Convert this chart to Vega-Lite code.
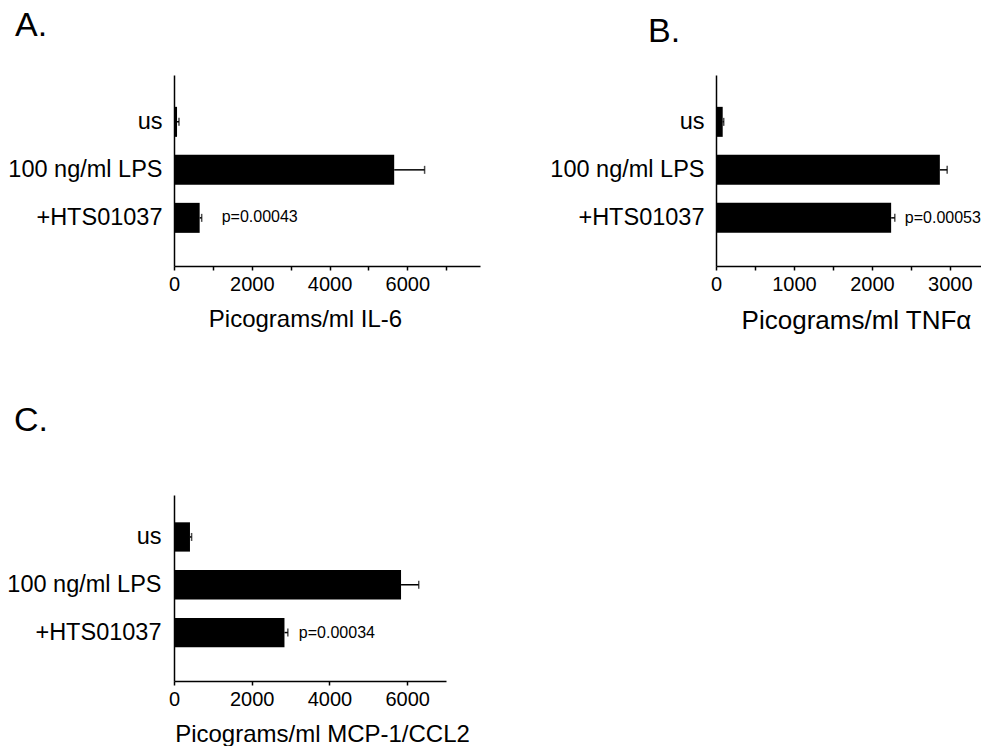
{
  "$schema": "https://vega.github.io/schema/vega-lite/v6.json",
  "autosize": {"type": "pad"},
  "padding": {"left": 6, "top": 9, "right": 0, "bottom": 0},
  "background": "white",
  "columns": 2,
  "spacing": {"row": 229, "column": 236},
  "bounds": "flush",
  "data": {
    "values": [
      {"panel": "A", "condition": "us", "value": 78, "upper": 128},
      {"panel": "A", "condition": "100 ng/ml LPS", "value": 5663, "upper": 6445},
      {"panel": "A", "condition": "+HTS01037", "value": 660, "upper": 712, "p": "p=0.00043"},
      {"panel": "B", "condition": "us", "value": 86, "upper": 99},
      {"panel": "B", "condition": "100 ng/ml LPS", "value": 2872, "upper": 2966},
      {"panel": "B", "condition": "+HTS01037", "value": 2247, "upper": 2294, "p": "p=0.00053"},
      {"panel": "C", "condition": "us", "value": 411, "upper": 453},
      {"panel": "C", "condition": "100 ng/ml LPS", "value": 5843, "upper": 6298},
      {"panel": "C", "condition": "+HTS01037", "value": 2843, "upper": 2930, "p": "p=0.00034"}
    ]
  },
  "concat": [
    {
      "width": 306, "height": 191,
      "title": {"text": "A.", "anchor": "start", "frame": "group", "dx": -159, "offset": 5, "baseline": "alphabetic", "fontSize": 34, "fontWeight": "normal", "font": "Liberation Sans", "color": "black"},
      "transform": [{"filter": "datum.panel == 'A'"}],
      "encoding": {
        "y": {"field": "condition", "type": "nominal", "sort": null,
          "scale": {"domain": ["us", "100 ng/ml LPS", "+HTS01037"], "paddingInner": 0.375, "paddingOuter": 0.677, "align": 0.49},
          "axis": {"title": null, "ticks": false, "labelFontSize": 23.5, "labelPadding": 12}}
      },
      "layer": [
        {"mark": {"type": "bar", "color": "black"},
         "encoding": {"x": {"field": "value", "type": "quantitative",
           "scale": {"domain": [0, 7870], "nice": false},
           "axis": {"title": "Picograms/ml IL-6", "values": [0, 1000, 2000, 3000, 4000, 5000, 6000, 7000], "format": "d",
             "labelExpr": "datum.value % 2000 == 0 ? datum.label : ''", "labelFontSize": 20, "labelPadding": 4, "tickSize": 4,
             "titleFontSize": 24, "titleX": 131, "titleY": 60, "titleBaseline": "alphabetic"}}}},
        {"mark": {"type": "rule", "color": "black", "strokeWidth": 1.5},
         "encoding": {"x": {"field": "value", "type": "quantitative"}, "x2": {"field": "upper"}}},
        {"mark": {"type": "tick", "color": "black", "thickness": 1.5, "size": 8},
         "encoding": {"x": {"field": "upper", "type": "quantitative"}}},
        {"transform": [{"filter": "datum.p"}],
         "mark": {"type": "text", "align": "left", "baseline": "middle", "dx": 20, "dy": -1, "fontSize": 16, "font": "Liberation Sans", "color": "black"},
         "encoding": {"x": {"field": "upper", "type": "quantitative"}, "text": {"field": "p"}}}
      ]
    },
    {
      "width": 265, "height": 191,
      "title": {"text": "B.", "anchor": "start", "frame": "group", "dx": -68, "offset": -1, "baseline": "alphabetic", "fontSize": 34, "fontWeight": "normal", "font": "Liberation Sans", "color": "black"},
      "transform": [{"filter": "datum.panel == 'B'"}],
      "encoding": {
        "y": {"field": "condition", "type": "nominal", "sort": null,
          "scale": {"domain": ["us", "100 ng/ml LPS", "+HTS01037"], "paddingInner": 0.375, "paddingOuter": 0.677, "align": 0.49},
          "axis": {"title": null, "ticks": false, "labelFontSize": 23.5, "labelPadding": 12}}
      },
      "layer": [
        {"mark": {"type": "bar", "color": "black"},
         "encoding": {"x": {"field": "value", "type": "quantitative",
           "scale": {"domain": [0, 3400], "nice": false},
           "axis": {"title": "Picograms/ml TNFα", "values": [0, 500, 1000, 1500, 2000, 2500, 3000], "format": "d",
             "labelExpr": "datum.value % 1000 == 0 ? datum.label : ''", "labelFontSize": 20, "labelPadding": 4, "tickSize": 4,
             "titleFontSize": 26, "titleX": 140, "titleY": 62, "titleBaseline": "alphabetic"}}}},
        {"mark": {"type": "rule", "color": "black", "strokeWidth": 1.5},
         "encoding": {"x": {"field": "value", "type": "quantitative"}, "x2": {"field": "upper"}}},
        {"mark": {"type": "tick", "color": "black", "thickness": 1.5, "size": 8},
         "encoding": {"x": {"field": "upper", "type": "quantitative"}}},
        {"transform": [{"filter": "datum.p"}],
         "mark": {"type": "text", "align": "left", "baseline": "middle", "dx": 10, "dy": 0, "fontSize": 16, "font": "Liberation Sans", "color": "black"},
         "encoding": {"x": {"field": "upper", "type": "quantitative"}, "text": {"field": "p"}}}
      ]
    },
    {
      "width": 272, "height": 186,
      "title": {"text": "C.", "anchor": "start", "frame": "group", "dx": -160, "offset": 30, "baseline": "alphabetic", "fontSize": 34, "fontWeight": "normal", "font": "Liberation Sans", "color": "black"},
      "transform": [{"filter": "datum.panel == 'C'"}],
      "encoding": {
        "y": {"field": "condition", "type": "nominal", "sort": null,
          "scale": {"domain": ["us", "100 ng/ml LPS", "+HTS01037"], "paddingInner": 0.387, "paddingOuter": 0.639, "align": 0.447},
          "axis": {"title": null, "ticks": false, "labelFontSize": 23.5, "labelPadding": 13}}
      },
      "layer": [
        {"mark": {"type": "bar", "color": "black"},
         "encoding": {"x": {"field": "value", "type": "quantitative",
           "scale": {"domain": [0, 7000], "nice": false},
           "axis": {"title": "Picograms/ml MCP-1/CCL2", "values": [0, 1000, 2000, 3000, 4000, 5000, 6000, 7000], "format": "d",
             "labelExpr": "datum.value % 2000 == 0 ? datum.label : ''", "labelFontSize": 20, "labelPadding": 4, "tickSize": 4,
             "titleFontSize": 24, "titleX": 148, "titleY": 60, "titleBaseline": "alphabetic"}}}},
        {"mark": {"type": "rule", "color": "black", "strokeWidth": 1.5},
         "encoding": {"x": {"field": "value", "type": "quantitative"}, "x2": {"field": "upper"}}},
        {"mark": {"type": "tick", "color": "black", "thickness": 1.5, "size": 8},
         "encoding": {"x": {"field": "upper", "type": "quantitative"}}},
        {"transform": [{"filter": "datum.p"}],
         "mark": {"type": "text", "align": "left", "baseline": "middle", "dx": 11, "dy": 0, "fontSize": 16, "font": "Liberation Sans", "color": "black"},
         "encoding": {"x": {"field": "upper", "type": "quantitative"}, "text": {"field": "p"}}}
      ]
    }
  ],
  "config": {
    "view": {"stroke": null},
    "font": "Liberation Sans",
    "axis": {"domainColor": "black", "domainWidth": 1.5, "tickColor": "black", "tickWidth": 1.5, "labelColor": "black", "titleColor": "black",
      "labelFont": "Liberation Sans", "titleFont": "Liberation Sans", "titleFontWeight": "normal", "grid": false, "labelFlush": false, "labelOverlap": false}
  }
}
